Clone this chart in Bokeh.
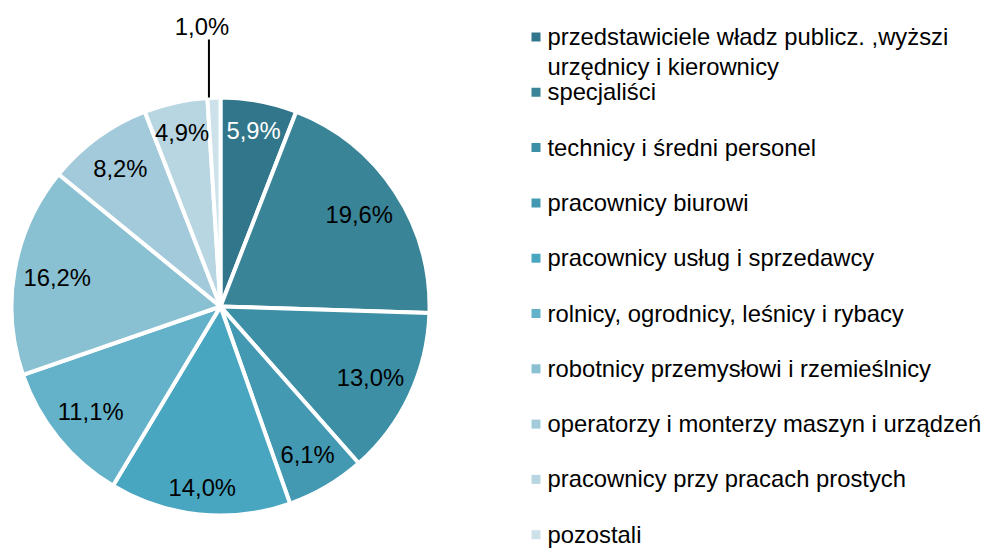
import numpy as np
from bokeh.plotting import figure
from bokeh.models import Range1d, ColumnDataSource
from bokeh.core.properties import value
from bokeh.embed import file_html
from bokeh.resources import INLINE

categories = [
    "przedstawiciele władz publicz. ,wyższi\nurzędnicy i kierownicy",
    "specjaliści",
    "technicy i średni personel",
    "pracownicy biurowi",
    "pracownicy usług i sprzedawcy",
    "rolnicy, ogrodnicy, leśnicy i rybacy",
    "robotnicy przemysłowi i rzemieślnicy",
    "operatorzy i monterzy maszyn i urządzeń",
    "pracownicy przy pracach prostych",
    "pozostali",
]
shares = [5.9, 19.6, 13.0, 6.1, 14.0, 11.1, 16.2, 8.2, 4.9, 1.0]
share_labels = ["5,9%", "19,6%", "13,0%", "6,1%", "14,0%", "11,1%", "16,2%", "8,2%", "4,9%", "1,0%"]
colors = ["#31768A", "#398497", "#3D8FA5", "#4399B1", "#49A6C1",
          "#64B2C9", "#89C0D2", "#A2CADA", "#B8D6E1", "#CCE1EA"]
label_colors = ["white"] + ["black"] * 9

FONT = "Liberation Sans"
FS = "23.8px"

W, H = 987, 548
p = figure(width=W, height=H, x_range=Range1d(0, W), y_range=Range1d(0, H),
           output_backend="svg", toolbar_location=None, min_border=0,
           x_axis_location=None, y_axis_location=None)
p.grid.visible = False
p.outline_line_color = None
p.background_fill_color = "white"

# pie geometry (data y = 548 - screen y)
cx, cy, R = 220, 548 - 306, 209
vals = np.array(shares)
cum = np.concatenate([[0], np.cumsum(vals)])
start = np.pi / 2 - 2 * np.pi * cum[:-1] / vals.sum()
end = np.pi / 2 - 2 * np.pi * cum[1:] / vals.sum()
mid = (start + end) / 2

src = ColumnDataSource(dict(start=start, end=end, color=colors))
p.wedge(x=cx, y=cy, radius=R, start_angle="start", end_angle="end", direction="clock",
        fill_color="color", line_color="white", line_width=4, source=src)

# inside-end labels
hw, hh, pad = 26, 9, 16
n_in = len(shares) - 1
r_lab = R - (np.abs(np.cos(mid)) * hw + np.abs(np.sin(mid)) * hh) - pad
lx = cx + r_lab * np.cos(mid)
ly = cy + r_lab * np.sin(mid)
p.text(x=lx[:n_in], y=ly[:n_in], text=share_labels[:n_in], text_color=label_colors[:n_in],
       text_font=value(FONT), text_font_size=FS, text_align="center", text_baseline="middle")

# outside label for the smallest slice, with leader line
ex = cx + R * np.cos(mid[-1]) - 5
ey = cy + R * np.sin(mid[-1])
p.segment(x0=[ex], y0=[ey], x1=[ex], y1=[548 - 39], line_color="black", line_width=2)
p.text(x=[ex - 7], y=[548 - 26], text=[share_labels[-1]], text_color="black",
       text_font=value(FONT), text_font_size=FS, text_align="center", text_baseline="middle")

# legend drawn manually
idx = np.arange(len(categories))
row_y = 548 - (36.5 + 55.3 * idx)
p.rect(x=535.5, y=row_y, width=9, height=9, fill_color=colors, line_color=None)
p.text(x=547, y=row_y + 14, text=categories, text_color="black",
       text_font=value(FONT), text_font_size=FS, text_align="left", text_baseline="top",
       text_line_height=1.1)

open("out.html", "w").write(file_html(p, INLINE))
